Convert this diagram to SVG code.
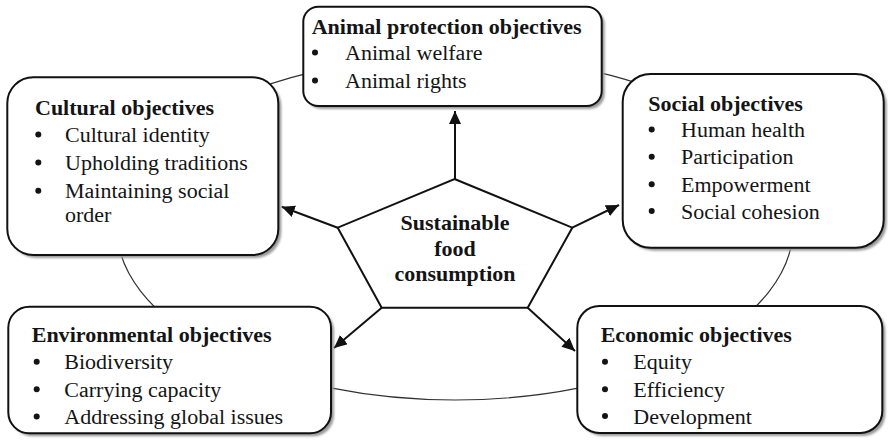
<svg xmlns="http://www.w3.org/2000/svg" width="888" height="445" viewBox="0 0 888 445" font-family="'Liberation Serif', 'DejaVu Serif', 'Times New Roman', Times, serif">
<style>
text{font-family:'Liberation Serif','DejaVu Serif','Times New Roman',Times,serif;font-size:20px;fill:#141414;}
.t{font-weight:bold;}
.c{font-weight:bold;font-size:21px;text-anchor:middle;}
.dot{fill:#141414;}
.box{fill:#fff;stroke:#111;stroke-width:2;}
.sh{fill:#9a9a9a;filter:url(#blur);}
.arr{stroke:#111;stroke-width:2;fill:none;marker-end:url(#ah);}
</style>
<defs>
<filter id="blur" x="-5%" y="-5%" width="110%" height="110%"><feGaussianBlur stdDeviation="1"/></filter>
<marker id="ah" markerUnits="userSpaceOnUse" markerWidth="14" markerHeight="12" refX="13" refY="6" orient="auto">
<path d="M0,0 L13,6 L0,12 Z" fill="#111"/>
</marker>
</defs>
<ellipse cx="455" cy="228" rx="338" ry="172" fill="none" stroke="#333" stroke-width="1.2"/>
<g id="connectors">
<line class="arr" x1="455" y1="179" x2="455" y2="111"/>
<line class="arr" x1="337.7" y1="227.7" x2="281.7" y2="206.7"/>
<line class="arr" x1="572.3" y1="227.7" x2="619" y2="205"/>
<line class="arr" x1="381.7" y1="307.7" x2="334" y2="348"/>
<line class="arr" x1="527.7" y1="307.7" x2="575" y2="351"/>
</g>
<g id="center">
<polygon points="454.5,179 572.3,227.7 527.7,307.7 381.7,307.7 337.7,227.7" fill="#fff" stroke="#111" stroke-width="2" stroke-linejoin="miter"/>
<text class="c" x="455" y="230" textLength="109" lengthAdjust="spacingAndGlyphs">Sustainable</text>
<text class="c" x="455" y="256" textLength="41.6" lengthAdjust="spacingAndGlyphs">food</text>
<text class="c" x="455" y="281" textLength="121" lengthAdjust="spacingAndGlyphs">consumption</text>
</g>
<g id="animal">
<rect class="sh" x="306.3" y="9.7" width="298.4" height="99.3" rx="15"/>
<rect class="box" x="303.3" y="6.7" width="298.4" height="99.3" rx="15"/>
<text class="t" x="311.7" y="33.5" textLength="270" lengthAdjust="spacingAndGlyphs">Animal protection objectives</text>
<circle class="dot" cx="315" cy="52.5" r="3"/><text x="345" y="60" textLength="137.5" lengthAdjust="spacingAndGlyphs">Animal welfare</text>
<circle class="dot" cx="315" cy="80.5" r="3"/><text x="345" y="88" textLength="121.6" lengthAdjust="spacingAndGlyphs">Animal rights</text>
</g>
<g id="cultural">
<rect class="sh" x="10.3" y="80.3" width="271" height="177.7" rx="26"/>
<rect class="box" x="7.3" y="77.3" width="271" height="177.7" rx="26"/>
<text class="t" x="35" y="115" textLength="179" lengthAdjust="spacingAndGlyphs">Cultural objectives</text>
<circle class="dot" cx="38.3" cy="134.5" r="3"/><text x="65" y="142" textLength="144.8" lengthAdjust="spacingAndGlyphs">Cultural identity</text>
<circle class="dot" cx="38.3" cy="162.5" r="3"/><text x="65" y="170" textLength="182.7" lengthAdjust="spacingAndGlyphs">Upholding traditions</text>
<circle class="dot" cx="38.3" cy="190.8" r="3"/><text x="65" y="198.3" textLength="164.4" lengthAdjust="spacingAndGlyphs">Maintaining social</text>
<text x="65" y="221.7" textLength="46.4" lengthAdjust="spacingAndGlyphs">order</text>
</g>
<g id="social">
<rect class="sh" x="625.7" y="77" width="261" height="173.7" rx="28"/>
<rect class="box" x="622.7" y="74" width="261" height="173.7" rx="28"/>
<text class="t" x="648.3" y="110.7" textLength="154.6" lengthAdjust="spacingAndGlyphs">Social objectives</text>
<circle class="dot" cx="651.7" cy="129.5" r="3"/><text x="681" y="137" textLength="124" lengthAdjust="spacingAndGlyphs">Human health</text>
<circle class="dot" cx="651.7" cy="156.8" r="3"/><text x="681" y="164.3" textLength="112.4" lengthAdjust="spacingAndGlyphs">Participation</text>
<circle class="dot" cx="651.7" cy="184.2" r="3"/><text x="681" y="191.7" textLength="129.5" lengthAdjust="spacingAndGlyphs">Empowerment</text>
<circle class="dot" cx="651.7" cy="211" r="3"/><text x="681" y="218.5" textLength="138.7" lengthAdjust="spacingAndGlyphs">Social cohesion</text>
</g>
<g id="environmental">
<rect class="sh" x="11.3" y="309.7" width="322.7" height="126.6" rx="21"/>
<rect class="box" x="8.3" y="306.7" width="322.7" height="126.6" rx="21"/>
<text class="t" x="31.7" y="341.7" textLength="240" lengthAdjust="spacingAndGlyphs">Environmental objectives</text>
<circle class="dot" cx="36.7" cy="361.8" r="3"/><text x="64.3" y="369.3" textLength="108.8" lengthAdjust="spacingAndGlyphs">Biodiversity</text>
<circle class="dot" cx="36.7" cy="389.2" r="3"/><text x="64.3" y="396.7" textLength="157" lengthAdjust="spacingAndGlyphs">Carrying capacity</text>
<circle class="dot" cx="36.7" cy="416.5" r="3"/><text x="64.3" y="424" textLength="218.8" lengthAdjust="spacingAndGlyphs">Addressing global issues</text>
</g>
<g id="economic">
<rect class="sh" x="580.3" y="309" width="305" height="127" rx="22"/>
<rect class="box" x="577.3" y="306" width="305" height="127" rx="22"/>
<text class="t" x="600.7" y="341.7" textLength="191.2" lengthAdjust="spacingAndGlyphs">Economic objectives</text>
<circle class="dot" cx="605" cy="361.8" r="3"/><text x="633.3" y="369.3" textLength="58.7" lengthAdjust="spacingAndGlyphs">Equity</text>
<circle class="dot" cx="605" cy="389.2" r="3"/><text x="633.3" y="396.7" textLength="91.6" lengthAdjust="spacingAndGlyphs">Efficiency</text>
<circle class="dot" cx="605" cy="416" r="3"/><text x="633.3" y="423.5" textLength="118.5" lengthAdjust="spacingAndGlyphs">Development</text>
</g>
</svg>
